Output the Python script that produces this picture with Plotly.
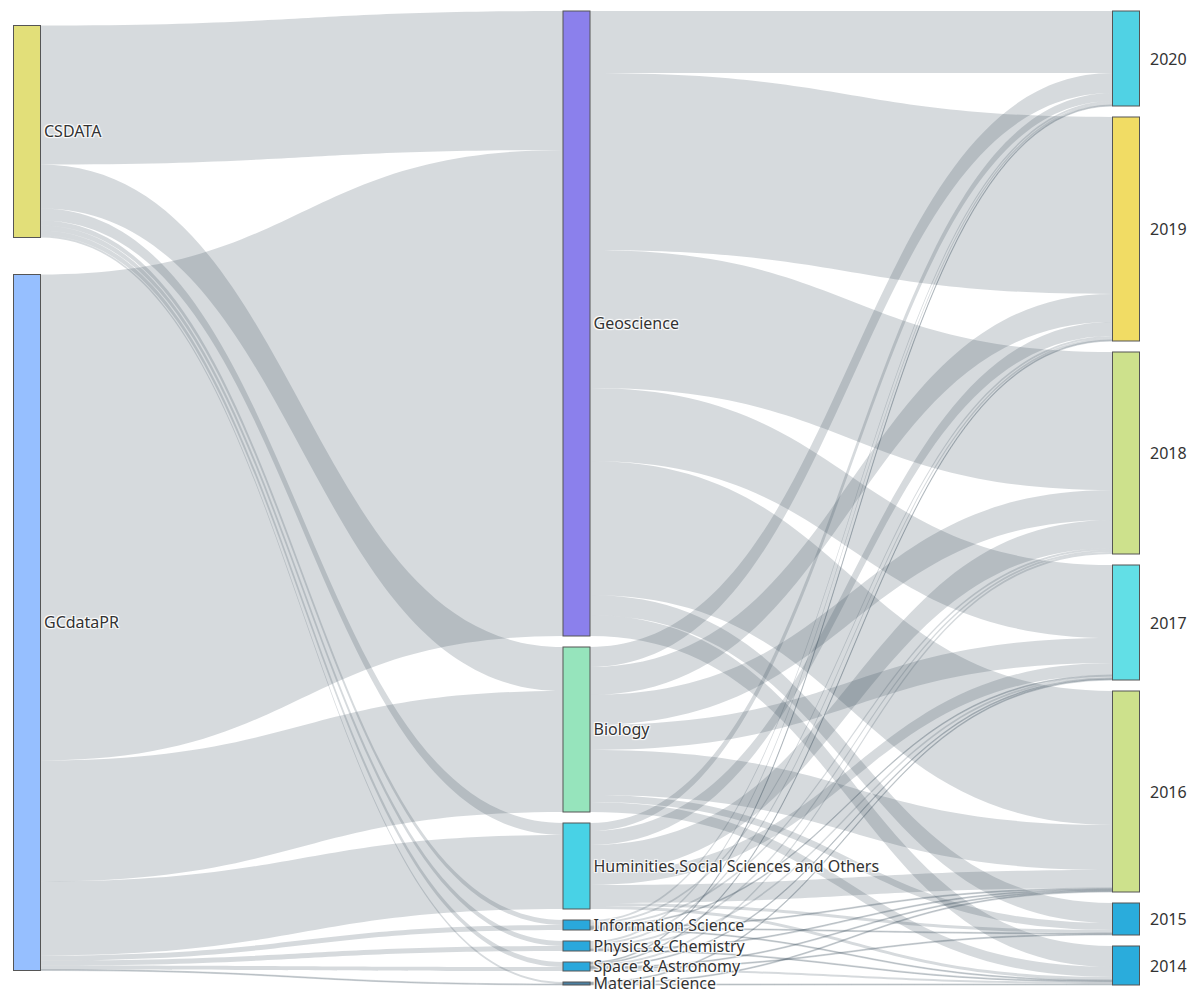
import plotly.graph_objects as go

sources = ["CSDATA", "GCdataPR"]
disciplines = ["Geoscience", "Biology", "Huminities,Social Sciences and Others",
               "Information Science", "Physics & Chemistry", "Space & Astronomy", "Material Science"]
years = ["2020", "2019", "2018", "2017", "2016", "2015", "2014"]

# papers per discipline coming from each journal
csdata_counts = [139, 44, 12, 5, 5, 5, 2]
gcdatapr_counts = [486, 121, 74, 5, 5, 4, 1]

# papers per year (2020 ... 2014) for each discipline
geoscience = [62, 177, 138, 73, 134, 20, 21]
biology = [20, 28, 30, 25, 45, 7, 10]
humanities = [8, 14, 28, 12, 18, 3, 3]
information = [2, 2, 2, 1, 1, 1, 1]
physics = [2, 2, 2, 2, 1, 0, 1]
space = [1, 1, 2, 1, 1, 1, 2]
material = [0, 0, 0, 1, 1, 0, 1]

source_colors = ["#e2df79", "#96bfff"]
discipline_colors = ["#8b80ec", "#96e4bc", "#48d2e6", "#2aa8dc", "#2aa8dc", "#2aa8dc", "#4a7fa0"]
year_colors = ["#50d2e4", "#f1dc64", "#cde18c", "#62dfe6", "#cde18c", "#2aacdc", "#2aacdc"]

# page body has an 8px margin, so the figure is a bit smaller than the window
W, H = 1184, 982
top, bottom = 3, 5
plot_h = H - top - bottom
pad = 11
thick = 27
left_gap = 37
col_x = [19 / W, 568.5 / W, 1118 / W]   # node centres, fraction of width
font = dict(family="Noto Sans", size=16, color="#333333")

by_year = [geoscience, biology, humanities, information, physics, space, material]
src_tot = [sum(csdata_counts), sum(gcdatapr_counts)]
dis_tot = [a + b for a, b in zip(csdata_counts, gcdatapr_counts)]
year_tot = [sum(c[k] for c in by_year) for k in range(len(years))]
total = sum(dis_tot)
ky = (plot_h - (len(disciplines) - 1) * pad) / total  # same scale sankey uses


def centres(tots, gap, start):
    out, y = [], start
    for t in tots:
        out.append((y + t * ky / 2) / plot_h)
        y += t * ky + gap
    return out


left_span = total * ky + left_gap * (len(sources) - 1)
src_y = centres(src_tot, left_gap, (plot_h - left_span) / 2)
dis_y = centres(dis_tot, pad, 0)
year_y = centres(year_tot, pad, 0)

labels = sources + disciplines + [""] * len(years)
colors = source_colors + discipline_colors + year_colors
node_x = [col_x[0]] * len(sources) + [col_x[1]] * len(disciplines) + [col_x[2]] * len(years)
node_y = src_y + dis_y + year_y
n_src = len(sources)
n_dis = len(disciplines)

src, tgt, val = [], [], []
for i, counts in enumerate([csdata_counts, gcdatapr_counts]):
    for j, v in enumerate(counts):
        if v > 0:
            src.append(i); tgt.append(n_src + j); val.append(v)
for j, counts in enumerate(by_year):
    for k, v in enumerate(counts):
        if v > 0:
            src.append(n_src + j); tgt.append(n_src + n_dis + k); val.append(v)

fig = go.Figure(go.Sankey(
    arrangement="fixed",
    node=dict(label=labels, color=colors, pad=pad, thickness=thick,
              x=node_x, y=node_y, line=dict(color="#555555", width=1)),
    link=dict(source=src, target=tgt, value=val, color="rgba(49,70,86,0.2)"),
    textfont=font,
))

# year labels sit to the right of the last column
for name, yc in zip(years, year_y):
    fig.add_annotation(text=name, x=col_x[2] + (thick / 2 + 8) / W, y=1 - yc,
                       xref="paper", yref="paper", xanchor="left", yanchor="middle",
                       showarrow=False, font=font)

fig.update_layout(width=W, height=H, margin=dict(l=0, r=0, t=top, b=bottom),
                  paper_bgcolor="white")
fig.write_html("out.html")
